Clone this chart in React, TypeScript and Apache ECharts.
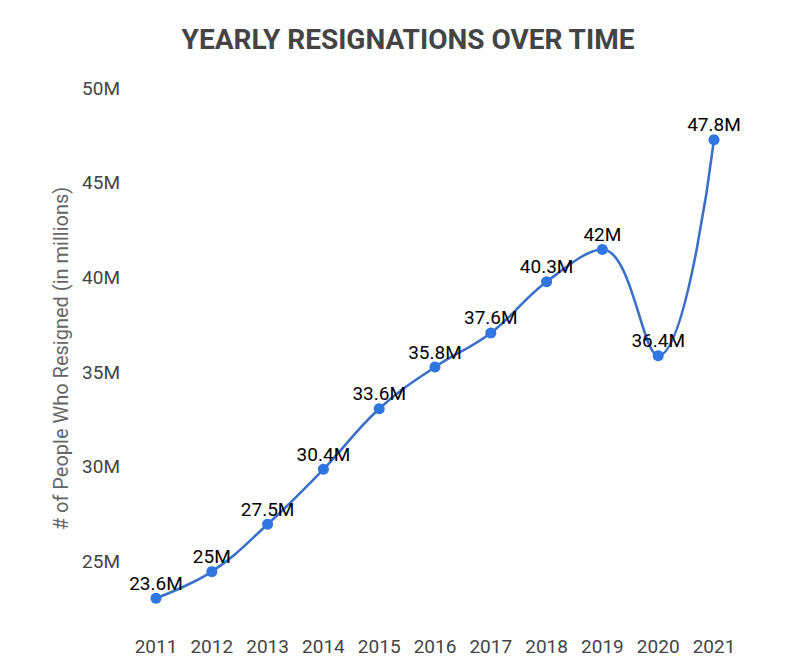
import React, { useEffect, useRef } from "react";
import * as echarts from "echarts";

const years = ["2011", "2012", "2013", "2014", "2015", "2016", "2017", "2018", "2019", "2020", "2021"];
const resignations = [23.6, 25, 27.5, 30.4, 33.6, 35.8, 37.6, 40.3, 42, 36.4, 47.8];
const titleText = "YEARLY RESIGNATIONS OVER TIME";
const yAxisName = "# of People Who Resigned (in millions)";

export default function App() {
  const ref = useRef<HTMLDivElement>(null);
  useEffect(() => {
    if (!ref.current) return;
    const chart = echarts.init(ref.current, undefined, { renderer: "svg" });
    chart.setOption({
      animation: false,
      backgroundColor: "#ffffff",
      textStyle: { fontFamily: "Roboto" },
      title: {
        text: titleText,
        left: 403,
        textAlign: "center",
        top: 20,
        textStyle: { fontFamily: "Roboto", fontWeight: "bold", fontSize: 28, color: "#444444" },
      },
      grid: { left: 156, right: 86, top: 98, bottom: 52, containLabel: false },
      xAxis: {
        type: "category",
        data: years,
        boundaryGap: false,
        axisLine: { show: false },
        axisTick: { show: false },
        splitLine: { show: false },
        axisLabel: { fontSize: 19, color: "#444444", margin: 18, fontFamily: "Roboto" },
      },
      yAxis: {
        type: "value",
        min: 22.5,
        max: 50,
        interval: 2.5,
        name: yAxisName,
        nameLocation: "middle",
        nameRotate: 90,
        nameGap: 82,
        nameTextStyle: { fontSize: 20, color: "#666666", fontFamily: "Roboto" },
        axisLine: { show: false },
        axisTick: { show: false },
        splitLine: { show: false },
        axisLabel: {
          fontSize: 19,
          color: "#444444",
          margin: 36,
          verticalAlign: "bottom",
          lineHeight: 20,
          fontFamily: "Roboto",
          formatter: (v: number) => (v % 5 === 0 ? v + "M" : ""),
        },
      },
      series: [
        {
          type: "line",
          data: resignations,
          smooth: 0.4,
          symbol: "circle",
          symbolSize: 11,
          itemStyle: { color: "#2f76e3", borderWidth: 0 },
          lineStyle: { color: "#3b70c8", width: 2.6 },
          label: {
            show: true,
            position: "top",
            distance: 0,
            fontSize: 19,
            color: "#000000",
            fontFamily: "Roboto",
            formatter: (p: any) => p.value + "M",
          },
        },
      ],
    });
    return () => chart.dispose();
  }, []);
  return <div ref={ref} style={{ position: "fixed", left: 0, top: 0, width: 800, height: 671 }} />;
}
